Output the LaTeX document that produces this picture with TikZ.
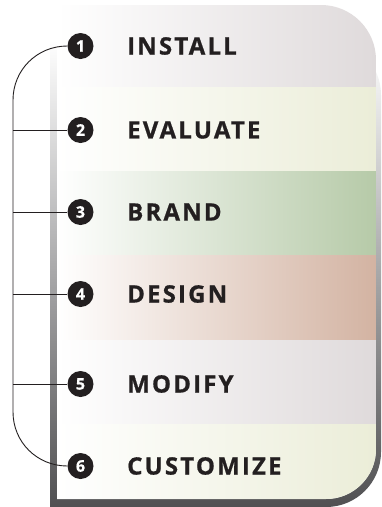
\documentclass[tikz,border=0pt]{standalone}
\usepackage{fontspec}
\setmainfont{Open Sans}[BoldFeatures={FakeBold=0.6}]
\newfontfamily\labfont{Open Sans}[LetterSpace=9, BoldFeatures={FakeBold=0.8}]
\definecolor{ink}{HTML}{231F20}
\definecolor{bandA}{HTML}{DFDADB}
\definecolor{bandB}{HTML}{EBEDD8}
\definecolor{bandC}{HTML}{B6CAA8}
\definecolor{bandD}{HTML}{D3B3A2}
\definecolor{shadowmid}{HTML}{C6C6CA}
\definecolor{shadowdark}{HTML}{505052}
\tikzset{
  x=1pt, y=-1pt,
  num/.style={circle, fill=ink, inner sep=0pt, minimum size=26pt, text=white, font=\fontsize{16}{16}\selectfont\bfseries},
  lab/.style={anchor=west, inner sep=0pt, text=ink, font=\fontsize{24}{24}\selectfont\labfont\bfseries},
  conn/.style={draw=ink, line width=0.9pt},
}
\begin{document}
\begin{tikzpicture}
\useasboundingbox (0,0) rectangle (381,507);
\fill[white] (0,0) rectangle (381,507);
% shadow frame
\shade[top color=white, middle color=shadowmid, bottom color=shadowdark]
  (50,40) -- (326,40) .. controls (356.4,40) and (381,64.6) .. (381,95)
  -- (381,452) .. controls (381,482.4) and (356.4,507) .. (326,507)
  -- (50,507) -- cycle;
% card
\begin{scope}
\clip (57,5) -- (321,5) .. controls (351.4,5) and (376,29.6) .. (376,60)
  -- (376,449) .. controls (376,476.6) and (353.6,499) .. (326,499)
  -- (57,499) -- cycle;
\fill[white] (57,5) rectangle (376,499);
\shade[left color=white, right color=bandA] (57,0) rectangle (376,87);
\shade[left color=white, right color=bandB] (57,87) rectangle (376,171);
\shade[left color=white, right color=bandC] (57,171) rectangle (376,255);
\shade[left color=white, right color=bandD] (57,255) rectangle (376,340);
\shade[left color=white, right color=bandA] (57,340) rectangle (376,424);
\shade[left color=white, right color=bandB] (57,424) rectangle (376,500);
\end{scope}
% numbers
\node[num] (c1) at (80.5,46) {1};
\node[num] (c2) at (80.5,130) {2};
\node[num] (c3) at (80.5,212) {3};
\node[num] (c4) at (80.5,294) {4};
\node[num] (c5) at (80.5,384) {5};
\node[num] (c6) at (80.5,466) {6};
% labels
\node[lab] (l1) at (127,46) {INSTALL};
\node[lab] (l2) at (127,130) {EVALUATE};
\node[lab] (l3) at (127,212) {BRAND};
\node[lab] (l4) at (127,294) {DESIGN};
\node[lab] (l5) at (127,384) {MODIFY};
\node[lab] (l6) at (127,466) {CUSTOMIZE};
% connectors
\coordinate (st) at (13,100);
\coordinate (sb) at (13,412);
\coordinate (s2) at (13,130);
\coordinate (s3) at (13,212);
\coordinate (s4) at (13,294);
\coordinate (s5) at (13,384);
\draw[conn] (c1.west) .. controls (37,46) and (13,70) .. (st) -- (sb)
  .. controls (13,442) and (37,466) .. (c6.west);
\draw[conn] (s2) -- (c2.west);
\draw[conn] (s3) -- (c3.west);
\draw[conn] (s4) -- (c4.west);
\draw[conn] (s5) -- (c5.west);
\end{tikzpicture}
\end{document}
